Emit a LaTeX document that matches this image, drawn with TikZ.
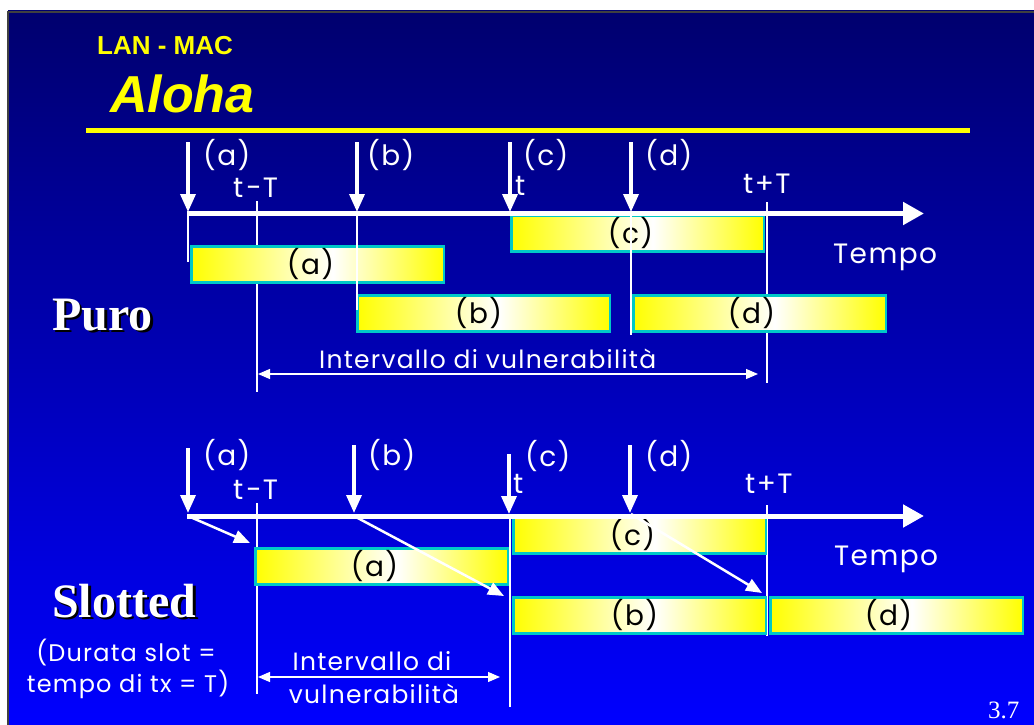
\documentclass[tikz,border=0pt]{standalone}
\usepackage{fontspec}
\usetikzlibrary{arrows.meta}
\newfontfamily\gothic{Poppins}[LetterSpace=5]
\newfontfamily\arialf{Liberation Sans}
\newfontfamily\timesf{Liberation Serif}
\definecolor{bgtop}{RGB}{0,0,110}
\definecolor{bgbot}{RGB}{0,0,255}
\definecolor{boxcyan}{RGB}{0,200,200}
\definecolor{ylw}{RGB}{255,255,0}
\pgfdeclarehorizontalshading{boxshade}{100bp}{color(0bp)=(ylw); color(25bp)=(ylw); color(53bp)=(white); color(75bp)=(ylw); color(100bp)=(ylw)}
\begin{document}
\begin{tikzpicture}[x=1pt,y=-1pt,
  lbl/.style={text=white,font=\gothic\fontsize{28}{30}\selectfont,inner sep=0pt,anchor=base west},
  small/.style={text=white,font=\gothic\fontsize{25}{28}\selectfont,inner sep=0pt},
  heading/.style={text=white,font=\timesf\bfseries\fontsize{48}{52}\selectfont,inner sep=0pt,anchor=base west},
  shadowtxt/.style={heading,text=black},
  txbox/.style={draw=boxcyan,line width=2.5pt,shading=boxshade,minimum width=252.5pt,minimum height=36pt,
    anchor=north west,inner sep=0pt,text=black,font=\gothic\fontsize{28}{30}\selectfont},
  axisline/.style={white,line width=5pt,-{Triangle[length=21pt,width=22pt]}},
  downarrow/.style={white,line width=3.5pt,-{Triangle[length=18pt,width=15pt]}},
  diagarrow/.style={white,line width=2.5pt,-{Triangle[length=16pt,width=13pt]}},
  mainline/.style={white,line width=2.5pt},
  thinline/.style={white,line width=1.2pt},
  spanarrow/.style={white,line width=1.2pt,{Triangle[length=12pt,width=10pt]}-{Triangle[length=12pt,width=10pt]}}
]
\useasboundingbox (0,0) rectangle (1034,725);
\fill[white] (0,0) rectangle (1034,725);
\shade[top color=bgtop,bottom color=bgbot] (8,11) rectangle (1034,725);
\draw[black!75,line width=2pt] (8,725) -- (8,12) -- (1034,12);

% title
\node[text=ylw,font=\arialf\bfseries\fontsize{26}{28}\selectfont,inner sep=0pt,anchor=base west] (lanmac) at (97,55) {LAN - MAC};
\node[text=ylw,font=\arialf\bfseries\itshape\fontsize{52}{56}\selectfont,inner sep=0pt,anchor=base west] (aloha) at (110,112) {Aloha};
\coordinate (rule1) at (86,130.5); \coordinate (rule2) at (970,130.5);
\draw[ylw,line width=5pt] (rule1) -- (rule2);

% ================= PURO =================
\coordinate (tmA1) at (257,201); \coordinate (tmB1) at (257,392);
\coordinate (tpA1) at (767,202); \coordinate (tpB1) at (767,383);
\draw[mainline] (tmA1) -- (tmB1);
\draw[mainline] (tpA1) -- (tpB1);

\node[txbox] (boxc1) at (510,214) {(c)\hspace*{14pt}};
\node[txbox] (boxa1) at (190,245) {(a)\hspace*{14pt}};
\node[txbox] (boxb1) at (356,294) {(b)\hspace*{10pt}};
\node[txbox] (boxd1) at (632,294) {(d)\hspace*{16pt}};

\coordinate (laA1) at (188,216); \coordinate (laB1) at (188,262);
\coordinate (lbA1) at (357,216); \coordinate (lbB1) at (357,310);
\coordinate (ldA1) at (631,216); \coordinate (ldB1) at (631,335);
\draw[thinline] (laA1) -- (laB1);
\draw[thinline] (lbA1) -- (lbB1);
\draw[thinline] (ldA1) -- (ldB1);

\coordinate (axA1) at (187,213.5); \coordinate (axB1) at (924,213.5);
\draw[axisline] (axA1) -- (axB1);

\coordinate (arA1) at (188,142); \coordinate (arAe1) at (188,212);
\coordinate (arB1) at (357,142); \coordinate (arBe1) at (357,212);
\coordinate (arC1) at (510,142); \coordinate (arCe1) at (510,212);
\coordinate (arD1) at (631,142); \coordinate (arDe1) at (631,212);
\draw[downarrow] (arA1) -- (arAe1);
\draw[downarrow] (arB1) -- (arBe1);
\draw[downarrow] (arC1) -- (arCe1);
\draw[downarrow] (arD1) -- (arDe1);

\node[lbl] (la1) at (203,165) {(a)};
\node[lbl] (lb1) at (367,165) {(b)};
\node[lbl] (lc1) at (523,165) {(c)};
\node[lbl] (ld1) at (645,165) {(d)};
\node[lbl] (ltm1) at (233,197) {t\kern3pt-\kern1pt T};
\node[lbl] (lt1) at (515,195) {t};
\node[lbl] (ltp1) at (743,193) {t+T};
\node[lbl] (tempo1) at (833,263) {Tempo};

\coordinate (ivA1) at (258,374); \coordinate (ivB1) at (758,374);
\draw[spanarrow] (ivA1) -- (ivB1);
\node[small,anchor=base west] (iv1) at (319,368) {Intervallo di vulnerabilità};

\node[shadowtxt] (puroS) at (54.5,332.5) {Puro};
\node[heading] (puro) at (52,330) {Puro};

% ================= SLOTTED =================
\coordinate (tmA2) at (257,503); \coordinate (tmB2) at (257,694);
\coordinate (ttA2) at (510,516); \coordinate (ttB2) at (510,707);
\coordinate (tpA2) at (767,505); \coordinate (tpB2) at (767,636);
\draw[mainline] (tmA2) -- (tmB2);
\draw[mainline] (ttA2) -- (ttB2);
\draw[mainline] (tpA2) -- (tpB2);

\node[txbox] (boxc2) at (512,516) {(c)\hspace*{14pt}};
\node[txbox] (boxa2) at (254,547) {(a)\hspace*{14pt}};
\node[txbox] (boxb2) at (512,596) {(b)\hspace*{10pt}};
\node[txbox] (boxd2) at (769,596) {(d)\hspace*{16pt}};

\coordinate (axA2) at (187,516); \coordinate (axB2) at (924,516);
\draw[axisline] (axA2) -- (axB2);

\coordinate (arA2) at (188,448); \coordinate (arAe2) at (188,513);
\coordinate (arB2) at (354,445); \coordinate (arBe2) at (354,513);
\coordinate (arC2) at (509,454); \coordinate (arCe2) at (509,514);
\coordinate (arD2) at (630,445); \coordinate (arDe2) at (630,513);
\draw[downarrow] (arA2) -- (arAe2);
\draw[downarrow] (arB2) -- (arBe2);
\draw[downarrow] (arC2) -- (arCe2);
\draw[downarrow] (arD2) -- (arDe2);

\coordinate (dgA1) at (188,516); \coordinate (dgA2) at (250,543);
\coordinate (dgB1) at (354,516); \coordinate (dgB2) at (504,596);
\coordinate (dgD1) at (631,514); \coordinate (dgD2) at (762,593);
\draw[diagarrow] (dgA1) -- (dgA2);
\draw[diagarrow] (dgB1) -- (dgB2);
\draw[diagarrow] (dgD1) -- (dgD2);

\node[lbl] (la2) at (203,465) {(a)};
\node[lbl] (lb2) at (368,465) {(b)};
\node[lbl] (lc2) at (525,466) {(c)};
\node[lbl] (ld2) at (645,466) {(d)};
\node[lbl] (ltm2) at (233,499) {t\kern3pt-\kern1pt T};
\node[lbl] (lt2) at (513,493) {t};
\node[lbl] (ltp2) at (745,493) {t+T};
\node[lbl] (tempo2) at (834,565) {Tempo};

\coordinate (ivA2) at (258,677); \coordinate (ivB2) at (500,677);
\draw[spanarrow] (ivA2) -- (ivB2);
\node[small,anchor=base] (iv2a) at (372,670) {Intervallo di};
\node[small,anchor=base] (iv2b) at (374,703) {vulnerabilità};

\node[shadowtxt] (slotS) at (54.5,619.5) {Slotted};
\node[heading] (slot) at (52,617) {Slotted};
\node[small,font=\gothic\fontsize{24}{27}\selectfont,anchor=base] (dur1) at (126,661) {(Durata slot =};
\node[small,font=\gothic\fontsize{24}{27}\selectfont,anchor=base] (dur2) at (128,692) {tempo di tx = T)};

\node[text=white,font=\timesf\fontsize{25}{27}\selectfont,inner sep=0pt,anchor=base west] (pg) at (988,718) {3.7};
\end{tikzpicture}
\end{document}
